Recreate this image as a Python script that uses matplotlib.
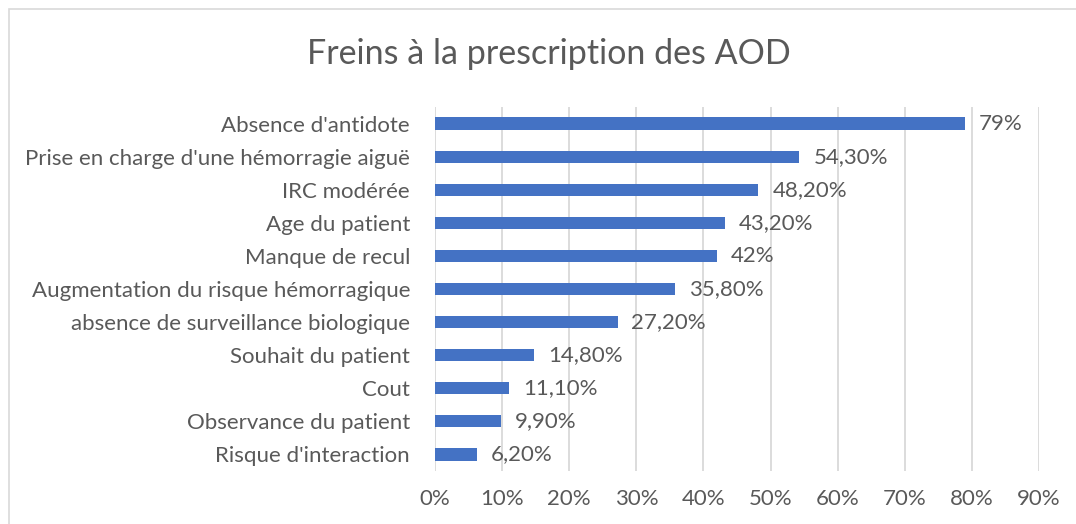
import matplotlib.pyplot as plt
from matplotlib.patches import Rectangle
from matplotlib.ticker import FuncFormatter, MultipleLocator

# categories listed bottom to top
categories = [
    "Risque d'interaction",
    "Observance du patient",
    "Cout",
    "Souhait du patient",
    "absence de surveillance biologique",
    "Augmentation du risque hémorragique",
    "Manque de recul",
    "Age du patient",
    "IRC modérée",
    "Prise en charge d'une hémorragie aiguë",
    "Absence d'antidote",
]
values = [6.2, 9.9, 11.1, 14.8, 27.2, 35.8, 42.0, 43.2, 48.2, 54.3, 79.0]
value_labels = ["6,20%", "9,90%", "11,10%", "14,80%", "27,20%", "35,80%",
                "42%", "43,20%", "48,20%", "54,30%", "79%"]
title = "Freins à la prescription des AOD"

text_color = "#595959"
bar_color = "#4472C4"
grid_color = "#D9D9D9"

plt.rcParams['font.family'] = ['Lato', 'DejaVu Sans']
fs = 16

fig = plt.figure(figsize=(10.76, 5.24), dpi=100)
ax = fig.add_axes([435 / 1076, 1 - 471 / 524, 604 / 1076, 364 / 524])

y = range(len(categories))
ax.barh(y, values, height=0.37, color=bar_color, zorder=3)
for yi, v, lab in zip(y, values, value_labels):
    ax.annotate(lab, (v, yi), xytext=(10, 0), textcoords='offset points',
                va='center', ha='left', fontsize=fs, color=text_color)

ax.set_xlim(0, 90)
ax.set_ylim(-0.5, len(categories) - 0.5)
ax.xaxis.set_major_locator(MultipleLocator(10))
ax.xaxis.set_major_formatter(FuncFormatter(lambda x, p: f"{x:.0f}%"))
ax.set_yticks(list(y))
ax.set_yticklabels(categories)
ax.tick_params(axis='both', length=0, labelsize=fs, colors=text_color)
ax.tick_params(axis='x', pad=13)
ax.tick_params(axis='y', pad=18)
ax.grid(axis='x', color=grid_color, linewidth=1.3, zorder=0)
for s in ax.spines.values():
    s.set_visible(False)

fig.text(549 / 1076, 1 - 54 / 524, title, ha='center', va='center',
         fontsize=24.5, color=text_color)

# chart area border
fig.patches.append(Rectangle((9 / 1076, -0.02), 1.1, 1 - 9 / 524 + 0.02,
                             transform=fig.transFigure, fill=False,
                             edgecolor=grid_color, linewidth=1.2))

fig.savefig("out.png", dpi=100, facecolor='white')
